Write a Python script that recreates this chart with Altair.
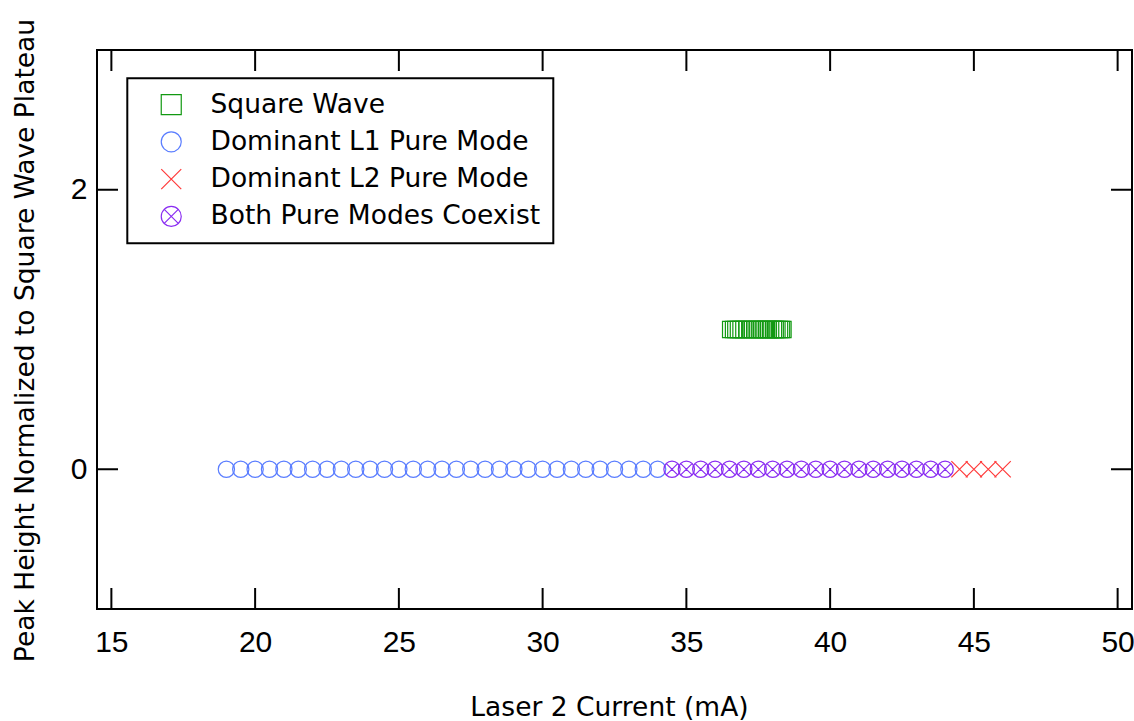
import altair as alt
import pandas as pd

# ---------------- data ----------------
series_names = ["Square Wave", "Dominant L1 Pure Mode", "Dominant L2 Pure Mode", "Both Pure Modes Coexist"]
series_colors = ["#129912", "#5a7dff", "#ff3a3a", "#8a2cf2"]

square_x = [36.54, 36.64, 36.72, 36.81, 36.90, 37.00, 37.11, 37.23, 37.30, 37.39, 37.47, 37.54,
            37.62, 37.71, 37.78, 37.85, 37.93, 38.03, 38.09, 38.15, 38.24, 38.31, 38.36]
square_y = 1.0

l1_x = [19.0, 19.5, 20.0, 20.5, 21.0, 21.5, 22.0, 22.5, 23.0, 23.5, 24.0, 24.5, 25.0, 25.5, 26.0,
        26.5, 27.0, 27.5, 28.0, 28.5, 29.0, 29.5, 30.0, 30.5, 31.0, 31.5, 32.0, 32.5, 33.0, 33.5, 34.0]
l1_y = 0.0

both_x = [34.5, 35.0, 35.5, 36.0, 36.5, 37.0, 37.5, 38.0, 38.5, 39.0, 39.5, 40.0, 40.5, 41.0,
          41.5, 42.0, 42.5, 43.0, 43.5, 44.0]
both_y = 0.0

l2_x = [44.5, 45.0, 45.5, 46.0]
l2_y = 0.0

x_ticks = [15, 20, 25, 30, 35, 40, 45, 50]
y_ticks = [0, 2]

# ---------------- table ----------------
rows = []
for v in l1_x:
    rows.append({"x": v, "y": l1_y, "series": series_names[1]})
for v in both_x:
    rows.append({"x": v, "y": both_y, "series": series_names[3]})
for v in l2_x:
    rows.append({"x": v, "y": l2_y, "series": series_names[2]})
for v in square_x:
    rows.append({"x": v, "y": square_y, "series": series_names[0]})
df = pd.DataFrame(rows)

W, H = 1035, 559
TICK = 21
LABEL_FONT = "Liberation Sans"
TEXT_FONT = "DejaVu Sans"

# marker shapes (custom paths in [-1, 1])
p_square = "M-1,-1L1,-1L1,1L-1,1Z"
p_circle = "M-1,0A1,1,0,1,1,1,0A1,1,0,1,1,-1,0Z"
p_x = "M-1,-1L1,1M-1,1L1,-1"
p_both = p_circle + "M-0.7,-0.7L0.7,0.7M-0.7,0.7L0.7,-0.7"
series_shapes = [p_square, p_circle, p_x, p_both]

x_scale = alt.Scale(domain=[14.5, 50.5], nice=False, zero=False)
y_scale = alt.Scale(domain=[-1, 3], nice=False, zero=False)

x_axis = alt.Axis(
    title="Laser 2 Current (mA)", values=x_ticks, format="d", domain=False, ticks=False,
    grid=False, labelFont=LABEL_FONT, labelFontSize=30, labelColor="black",
    labelPadding=18, labelFlush=False,
    titleFont=TEXT_FONT, titleFontSize=26.5, titleFontWeight="normal", titleColor="black",
    titleX=512, titleY=106, titleBaseline="alphabetic", titleAlign="center",
)
y_axis = alt.Axis(
    title="Peak Height Normalized to Square Wave Plateau", values=y_ticks, format="d",
    domain=False, ticks=False, grid=False, labelFont=LABEL_FONT, labelFontSize=30,
    labelColor="black", labelPadding=10, labelFlush=False,
    titleFont=TEXT_FONT, titleFontSize=26.5, titleFontWeight="normal", titleColor="black",
    titleAngle=270, titleX=-63.5, titleY=290, titleBaseline="alphabetic", titleAlign="center",
)

x_enc = alt.X("x:Q", scale=x_scale, axis=x_axis)
y_enc = alt.Y("y:Q", scale=y_scale, axis=y_axis)

legend = alt.Legend(
    title=None, orient="none", legendX=30.3, legendY=28.3, fillColor="white",
    strokeColor="black", padding=13, symbolSize=400, symbolStrokeWidth=1.2,
    symbolOffset=17.7, labelOffset=26, rowPadding=10.3, labelFont=TEXT_FONT,
    labelFontSize=26.5, labelColor="black", labelLimit=0,
)

points = alt.Chart(df).mark_point(filled=False, size=265, strokeWidth=1.2, opacity=1).encode(
    x=x_enc,
    y=y_enc,
    color=alt.Color("series:N", scale=alt.Scale(domain=series_names, range=series_colors), legend=legend),
    shape=alt.Shape("series:N", scale=alt.Scale(domain=series_names, range=series_shapes), legend=legend),
)

xt = pd.DataFrame({"x": x_ticks})
yt = pd.DataFrame({"y": y_ticks})

tick_style = dict(color="black", strokeWidth=2)
bottom_ticks = alt.Chart(xt).mark_rule(**tick_style).encode(x=x_enc, y=alt.value(H), y2=alt.value(H - TICK))
top_ticks = alt.Chart(xt).mark_rule(**tick_style).encode(x=x_enc, y=alt.value(0), y2=alt.value(TICK))
left_ticks = alt.Chart(yt).mark_rule(**tick_style).encode(y=y_enc, x=alt.value(0), x2=alt.value(TICK))
right_ticks = alt.Chart(yt).mark_rule(**tick_style).encode(y=y_enc, x=alt.value(W), x2=alt.value(W - TICK))

chart = alt.layer(points, bottom_ticks, top_ticks, left_ticks, right_ticks).properties(
    width=W, height=H,
    padding={"left": 97, "top": 50, "right": 2, "bottom": 112},
    autosize=alt.AutoSizeParams(type="none"),
    background="white",
).configure_view(stroke="black", strokeWidth=2).configure_legend(strokeWidth=2)

chart.save("out.html", embed_options={"renderer": "svg", "actions": False})
